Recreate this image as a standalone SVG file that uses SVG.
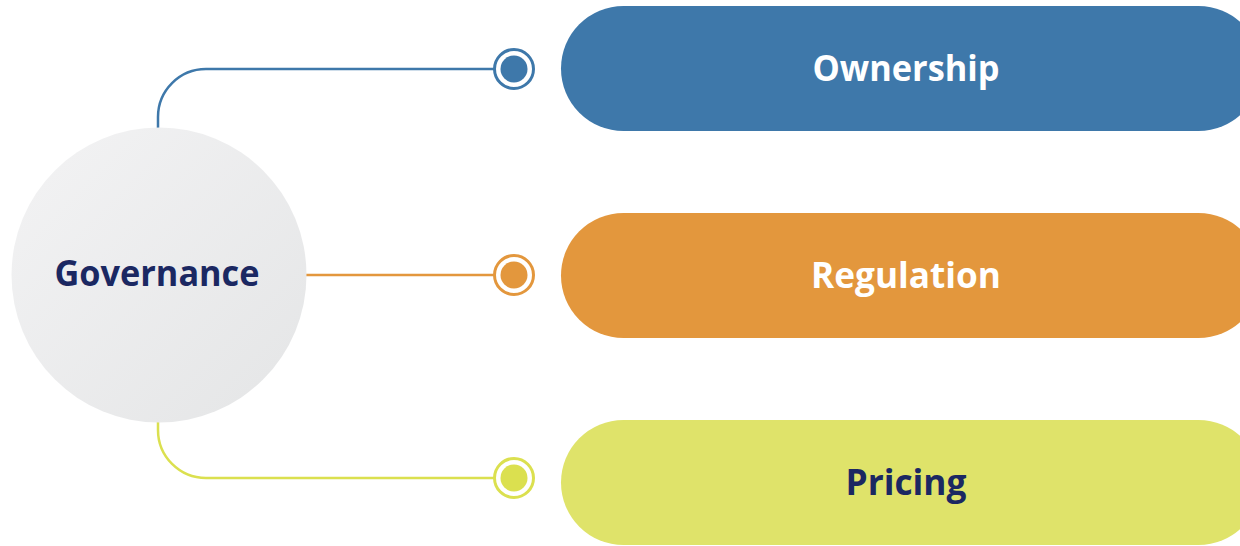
<svg xmlns="http://www.w3.org/2000/svg" width="1240" height="546" viewBox="0 0 1240 546">
<defs>
<linearGradient id="hub" x1="0" y1="0" x2="1" y2="1">
<stop offset="0" stop-color="#f3f3f4"/>
<stop offset="1" stop-color="#e4e5e6"/>
</linearGradient>
<style>
.lbl{font-family:"Open Sans","Liberation Sans",sans-serif;font-weight:700;font-size:36px;text-anchor:middle;dominant-baseline:central}
.w{fill:#ffffff}
.n{fill:#1b2862}
.line{fill:none;stroke-width:2.5}
.ring{fill:#ffffff;stroke-width:3}
</style>
</defs>
<rect width="1240" height="546" fill="#ffffff"/>
<g id="connectors">
<path class="line" stroke="#3e78aa" d="M158 128 V117 A48 48 0 0 1 206 69 H494"/>
<path class="line" stroke="#e3973d" d="M306 275 H494"/>
<path class="line" stroke="#dbe04f" d="M158 422 V430 A48 48 0 0 0 206 478 H494"/>
<g id="dot-ownership"><circle class="ring" cx="514" cy="69" r="19.5" stroke="#3e78aa"/><circle cx="514" cy="69" r="13.5" fill="#3e78aa"/></g>
<g id="dot-regulation"><circle class="ring" cx="514" cy="275" r="19.5" stroke="#e3973d"/><circle cx="514" cy="275" r="13.5" fill="#e3973d"/></g>
<g id="dot-pricing"><circle class="ring" cx="514" cy="478" r="19.5" stroke="#dbe04f"/><circle cx="514" cy="478" r="13.5" fill="#dbe04f"/></g>
</g>
<g id="governance">
<circle cx="159" cy="275" r="147.5" fill="url(#hub)"/>
<text class="lbl n" x="157" y="272" textLength="205" lengthAdjust="spacingAndGlyphs">Governance</text>
</g>
<g id="ownership">
<rect x="561" y="6" width="700" height="125" rx="62.5" fill="#3e78aa"/>
<text class="lbl w" x="906" y="67" textLength="187" lengthAdjust="spacingAndGlyphs">Ownership</text>
</g>
<g id="regulation">
<rect x="561" y="213" width="700" height="125" rx="62.5" fill="#e3973d"/>
<text class="lbl w" x="906" y="274" textLength="190" lengthAdjust="spacingAndGlyphs">Regulation</text>
</g>
<g id="pricing">
<rect x="561" y="420" width="700" height="125" rx="62.5" fill="#dfe36a"/>
<text class="lbl n" x="906" y="481" textLength="121" lengthAdjust="spacingAndGlyphs">Pricing</text>
</g>
</svg>
